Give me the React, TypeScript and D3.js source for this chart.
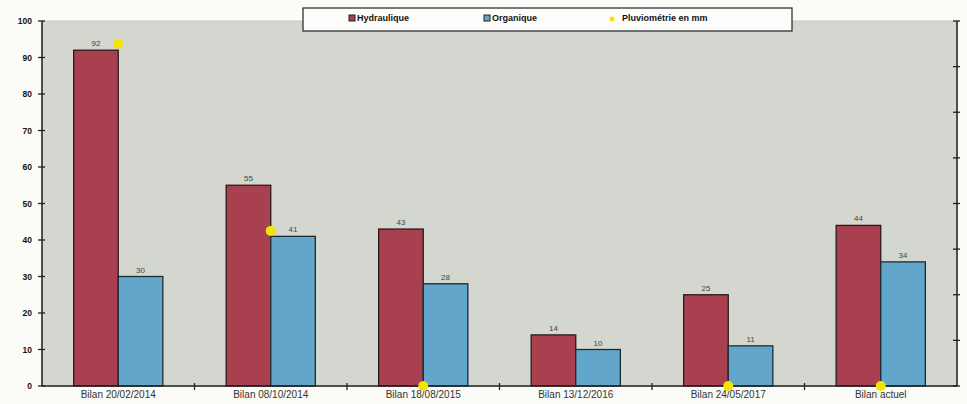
import React from "react";
import * as d3 from "d3";

const categories = ["Bilan 20/02/2014", "Bilan 08/10/2014", "Bilan 18/08/2015", "Bilan 13/12/2016", "Bilan 24/05/2017", "Bilan actuel"];
const hydraulique = [92, 55, 43, 14, 25, 44];
const organique = [30, 41, 28, 10, 11, 34];
const pluviometrie: (number | null)[] = [75, 34, 0, null, 0, 0];
const leftTicks = [0, 10, 20, 30, 40, 50, 60, 70, 80, 90, 100];
const rightTicks = [0, 10, 20, 30, 40, 50, 60, 70, 80];
const seriesNames = ["Hydraulique", "Organique", "Pluviométrie en mm"];

const W = 967, H = 404;
const M = { left: 42, right: 957, top: 21, bottom: 386 };
const RED = "#a8404f";
const BLUE = "#62a6cc";
const YELLOW = "#f2e600";
const BOLD = "'Liberation Sans', Arial, sans-serif";

export default function App() {
  const x0 = d3.scaleBand<string>().domain(categories).range([M.left, M.right]).paddingInner(0).paddingOuter(0);
  const x1 = d3.scaleBand<string>().domain(["h", "o"]).range([0, x0.bandwidth()]).paddingInner(0).paddingOuter(0.71);
  const y = d3.scaleLinear().domain([0, 100]).range([M.bottom, M.top]);
  const y2 = d3.scaleLinear().domain([0, 80]).range([M.bottom, M.top]);
  const bw = x1.bandwidth();

  return (
    <svg width={W} height={H} style={{ position: "absolute", left: 0, top: 0, background: "#fbfbf7" }}>
      <rect x={M.left} y={M.top} width={M.right - M.left} height={M.bottom - M.top} fill="#d4d7cf" stroke="#c4c7bf" />
      {/* bars */}
      {categories.map((c, i) => {
        const gx = x0(c)!;
        return (
          <g key={c}>
            <rect x={gx + x1("h")!} y={y(hydraulique[i])} width={bw} height={y(0) - y(hydraulique[i])} fill={RED} stroke="#2a1a1e" strokeWidth={1.3} />
            <rect x={gx + x1("o")!} y={y(organique[i])} width={bw} height={y(0) - y(organique[i])} fill={BLUE} stroke="#1e2a33" strokeWidth={1.3} />
            <text x={gx + x1("h")! + bw / 2} y={y(hydraulique[i]) - 4} textAnchor="middle" fontSize={8} fontFamily={BOLD} fill="#444">{hydraulique[i]}</text>
            <text x={gx + x1("o")! + bw / 2} y={y(organique[i]) - 4} textAnchor="middle" fontSize={8} fontFamily={BOLD} fill="#444">{organique[i]}</text>
            <text x={gx + x0.bandwidth() / 2} y={398} textAnchor="middle" fontSize={10} fontFamily={BOLD} fill="#333">{c}</text>
          </g>
        );
      })}
      {/* left axis */}
      <line x1={M.left} x2={M.left} y1={M.top} y2={M.bottom} stroke="#222" strokeWidth={1.5} />
      {leftTicks.map((t) => (
        <g key={t}>
          <line x1={M.left - 4} x2={M.left + 3} y1={y(t)} y2={y(t)} stroke="#222" strokeWidth={1.3} />
          <text x={M.left - 10} y={y(t) + 3} textAnchor="end" fontSize={8.5} fontWeight={900} fontFamily={BOLD} fill="#111">{t}</text>
        </g>
      ))}
      {/* right axis */}
      <line x1={M.right} x2={M.right} y1={M.top} y2={M.bottom} stroke="#222" strokeWidth={1.5} />
      {rightTicks.map((t) => (
        <line key={t} x1={M.right - 4} x2={M.right + 3} y1={y2(t)} y2={y2(t)} stroke="#222" strokeWidth={1.3} />
      ))}
      {/* bottom axis */}
      <line x1={M.left} x2={M.right} y1={M.bottom} y2={M.bottom} stroke="#222" strokeWidth={1.5} />
      {categories.slice(1).map((c) => (
        <line key={c} x1={x0(c)!} x2={x0(c)!} y1={M.bottom - 3} y2={M.bottom + 4} stroke="#222" strokeWidth={1.3} />
      ))}
      {/* pluviometrie points */}
      {categories.map((c, i) =>
        pluviometrie[i] === null ? null : (
          <circle key={c} cx={x0(c)! + x0.bandwidth() / 2} cy={y2(pluviometrie[i] as number)} r={5} fill={YELLOW} />
        )
      )}
      {/* legend */}
      <rect x={303} y={8} width={489} height={23} fill="#fdfdfb" stroke="#333" strokeWidth={1.3} />
      <rect x={349} y={15} width={6} height={6} fill={RED} stroke="#222" strokeWidth={1} />
      <text x={357} y={21} fontSize={9} fontWeight={700} fontFamily={BOLD} fill="#111">{seriesNames[0]}</text>
      <rect x={484} y={15} width={6} height={6} fill={BLUE} stroke="#222" strokeWidth={1} />
      <text x={492} y={21} fontSize={9} fontWeight={700} fontFamily={BOLD} fill="#111">{seriesNames[1]}</text>
      <circle cx={612} cy={19} r={2.5} fill={YELLOW} />
      <text x={622} y={21} fontSize={9} fontWeight={700} fontFamily={BOLD} fill="#111">{seriesNames[2]}</text>
    </svg>
  );
}
